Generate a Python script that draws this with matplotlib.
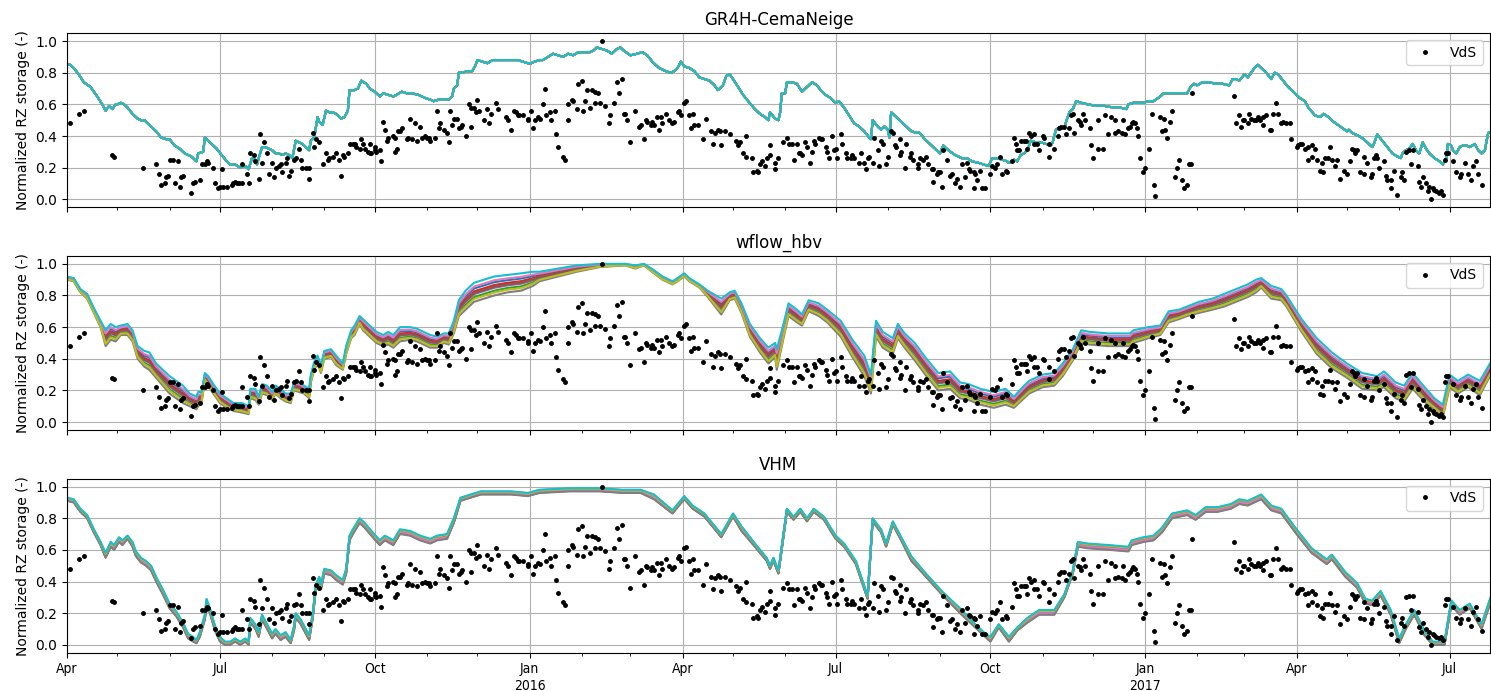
import numpy as np
import pandas as pd
import matplotlib
matplotlib.use("Agg")
import matplotlib.pyplot as plt
import matplotlib.dates as mdates
from matplotlib.ticker import FuncFormatter

START = pd.Timestamp("2015-04-01")
END = pd.Timestamp("2017-07-25")

# VdS observations: day offset from START and normalized storage
vds_day = [2, 7, 10, 27, 28, 45, 53, 55, 56, 58, 59, 60, 61, 63, 64, 66, 67, 68, 69, 74, 75, 76, 79, 80, 82, 83, 84,
           87, 88, 90, 91, 92, 93, 95, 98, 99, 100, 101, 102, 104, 104, 107, 108, 109, 111, 112, 114, 115, 117, 116,
           119, 120, 123, 122, 124, 126, 127, 128, 130, 131, 132, 133, 135, 136,
           138, 139, 140, 142, 144, 144, 146, 147, 148, 150, 152, 154, 155, 156, 158, 160, 162, 163, 164, 165, 167,
           168, 170, 171, 172, 174, 175, 176, 177, 179, 180, 180, 181, 183, 183, 184, 186, 187, 188, 189, 190, 191,
           194, 195, 195, 196, 197, 198, 199, 202, 203, 205, 204, 207, 208, 210, 211, 213, 214, 215, 216, 219, 220,
           221, 222, 224, 226, 227, 228, 229, 230, 232, 233, 234, 235, 237, 239, 240, 240, 242, 243, 244, 245, 248,
           250, 251, 252, 255, 256, 261, 262, 264, 266, 267, 268, 269, 271, 274, 274, 276, 277, 278, 280,
           281, 283, 284, 285, 287, 288, 290, 291, 292, 295, 296, 298, 298, 300, 301, 303, 304, 306, 307, 308, 309,
           311, 312, 314, 316, 314, 317, 318, 320, 322, 323, 325, 327, 330, 328, 331, 332, 333, 335, 338, 340, 341,
           343, 344, 345, 347, 348, 349, 351, 352, 353, 354, 356, 358, 360, 361, 363, 364, 365, 367, 368, 370, 371,
           372, 373, 375, 378, 380, 383, 384, 385, 387, 388, 389, 391, 394, 398, 399, 400, 402, 404, 404, 407, 408,
           410, 411, 412, 413, 415, 416, 418, 418,
           421, 421, 423, 426, 428, 429, 431, 432, 434, 435, 436, 437, 439, 440, 442, 443, 444, 445, 447, 448, 449,
           451, 452, 453, 455, 456, 457, 458, 460, 461, 463, 464, 466, 467, 468, 471, 472, 474, 475, 476, 477, 479,
           480, 482, 483, 484, 485, 487, 488, 490, 491, 492, 493, 495, 495, 496, 498, 499, 501, 502, 503, 506, 506,
           507, 509, 511, 512, 514, 515, 515, 517, 518, 519, 520, 521, 523, 525, 526, 528, 529, 531, 532, 534, 535,
           536, 537, 539, 539, 540, 541, 543, 544, 546, 549, 550, 552, 553, 555, 556, 558,
           559, 562, 563, 564, 565, 566, 567, 569, 570, 571, 572, 573, 575, 575, 577, 578, 580, 581, 584, 584, 587,
           589, 590, 591, 593, 594, 596, 597, 598, 599, 601, 602, 603, 604, 605, 608, 609, 610, 613, 613, 616, 617,
           619, 621, 623, 623, 625, 627, 628, 629, 631, 632, 633, 634, 635, 636, 637, 638, 640, 641, 643, 645, 646,
           647, 650, 651, 652, 653, 654, 656, 657, 659, 660, 661, 663, 664, 666, 667, 668, 669, 694, 695, 697, 698,
           699, 700, 702, 703, 704, 706, 707, 708, 709, 711, 711, 713, 715, 716, 717, 719, 720, 722, 723, 725, 727,
           728, 731, 732, 733, 734, 736, 738, 738, 740, 740, 742, 743, 745, 746, 747, 748, 750, 751, 752, 754, 755,
           757, 759, 761, 763, 764, 765, 766, 767, 769, 771, 771, 773, 775, 776, 777, 778, 779, 780, 783, 784, 785,
           787, 787, 789, 791, 793, 794, 795, 796, 798, 799, 800, 803, 804, 805, 806, 808, 809, 810, 811, 812, 813,
           814, 816, 817, 818, 819, 820, 821, 824, 826, 828, 829, 831, 833, 835, 836, 838, 839, 841]
vds_val = [0.48, 0.54, 0.56, 0.28, 0.27, 0.20, 0.22, 0.16, 0.09, 0.10, 0.14, 0.15, 0.25, 0.25, 0.10, 0.24, 0.08, 0.14,
           0.15, 0.04, 0.10, 0.11, 0.12, 0.22, 0.22, 0.24, 0.23, 0.20, 0.10, 0.07, 0.08, 0.19, 0.08, 0.08, 0.09, 0.10,
           0.11, 0.10, 0.10, 0.10, 0.22, 0.16, 0.10, 0.29, 0.28, 0.24, 0.13, 0.41, 0.36, 0.23, 0.29, 0.16, 0.14, 0.23,
           0.20, 0.21, 0.22, 0.17, 0.23, 0.26, 0.15, 0.18, 0.25, 0.26,
           0.32, 0.25, 0.20, 0.20, 0.20, 0.13, 0.42, 0.33, 0.38, 0.36, 0.22, 0.29, 0.25, 0.26, 0.27, 0.29, 0.25, 0.15,
           0.28, 0.27, 0.29, 0.35, 0.35, 0.35, 0.33, 0.32, 0.38, 0.35, 0.32, 0.30, 0.35, 0.29, 0.29, 0.33, 0.31, 0.30,
           0.31, 0.24, 0.49, 0.44, 0.37, 0.39, 0.40, 0.39, 0.30, 0.32, 0.43, 0.43, 0.45, 0.38, 0.39, 0.38, 0.51, 0.48,
           0.37, 0.46, 0.39, 0.40, 0.39, 0.39, 0.37, 0.39, 0.56, 0.45, 0.48, 0.44, 0.42, 0.36, 0.56, 0.47, 0.51, 0.51,
           0.45, 0.46, 0.47, 0.40, 0.60, 0.46, 0.58, 0.58, 0.55, 0.63, 0.56, 0.50, 0.57, 0.48, 0.54, 0.61, 0.57, 0.52,
           0.50, 0.44, 0.56, 0.55, 0.53, 0.53, 0.53, 0.51, 0.50, 0.56, 0.45, 0.50, 0.52,
           0.51, 0.60, 0.70, 0.53, 0.55, 0.50, 0.56, 0.41, 0.33, 0.27, 0.25, 0.50, 0.60, 0.63, 0.62, 0.57, 0.73, 0.75,
           0.56, 0.62, 0.69, 0.58, 0.69, 0.68, 0.67, 0.61, 0.61, 1.00, 0.59, 0.48, 0.53, 0.61, 0.74, 0.76, 0.67, 0.54,
           0.54, 0.50, 0.36, 0.56, 0.46, 0.47, 0.38, 0.50, 0.49, 0.47, 0.49, 0.47, 0.52, 0.44, 0.52, 0.48, 0.54, 0.50,
           0.48, 0.49, 0.55, 0.56, 0.53, 0.61, 0.62, 0.53, 0.45, 0.54, 0.47, 0.47, 0.38, 0.51, 0.43, 0.35, 0.42, 0.44,
           0.43, 0.34, 0.43, 0.41, 0.37, 0.34, 0.36, 0.29, 0.40, 0.27, 0.26, 0.17, 0.18, 0.17, 0.22, 0.24, 0.21, 0.26,
           0.28, 0.34,
           0.19, 0.23, 0.26, 0.36, 0.39, 0.35, 0.35, 0.25, 0.35, 0.29, 0.29, 0.28, 0.36, 0.33, 0.23, 0.30, 0.37, 0.35,
           0.39, 0.38, 0.38, 0.33, 0.30, 0.26, 0.40, 0.31, 0.32, 0.26, 0.41, 0.35, 0.29, 0.26, 0.26, 0.28, 0.26, 0.23,
           0.29, 0.23, 0.19, 0.26, 0.27, 0.23, 0.39, 0.31, 0.21, 0.37, 0.35, 0.22, 0.27, 0.43, 0.42, 0.34, 0.33, 0.38,
           0.28, 0.30, 0.20, 0.35, 0.27, 0.29, 0.25, 0.20, 0.22, 0.26, 0.25, 0.27, 0.22, 0.19, 0.11, 0.19, 0.16, 0.17,
           0.17, 0.08, 0.31, 0.25, 0.15, 0.16, 0.10, 0.13, 0.08, 0.22, 0.14, 0.23, 0.19, 0.18, 0.17, 0.07, 0.16, 0.12,
           0.18, 0.07, 0.07, 0.16, 0.21, 0.20, 0.22, 0.27, 0.16, 0.18,
           0.17, 0.24, 0.39, 0.35, 0.31, 0.31, 0.37, 0.37, 0.37, 0.32, 0.42, 0.40, 0.41, 0.35, 0.35, 0.31, 0.40, 0.39,
           0.27, 0.35, 0.32, 0.40, 0.45, 0.46, 0.46, 0.41, 0.45, 0.53, 0.54, 0.42, 0.50, 0.49, 0.47, 0.54, 0.50, 0.45,
           0.34, 0.26, 0.50, 0.32, 0.32, 0.53, 0.41, 0.52, 0.50, 0.42, 0.43, 0.42, 0.50, 0.41, 0.45, 0.46, 0.48, 0.49,
           0.48, 0.45, 0.40, 0.26, 0.17, 0.20, 0.32, 0.54, 0.09, 0.02, 0.52, 0.43, 0.51, 0.44, 0.39, 0.49, 0.56, 0.14,
           0.20, 0.25, 0.12, 0.07, 0.09, 0.22, 0.22, 0.67, 0.65, 0.48, 0.53, 0.46, 0.50,
           0.50, 0.48, 0.54, 0.51, 0.50, 0.50, 0.52, 0.50, 0.52, 0.47, 0.53, 0.44, 0.44, 0.54, 0.61, 0.54, 0.48, 0.49,
           0.48, 0.48, 0.38, 0.33, 0.34, 0.35, 0.35, 0.32, 0.33, 0.25, 0.34, 0.27, 0.32, 0.25, 0.18, 0.23, 0.17, 0.26,
           0.26, 0.33, 0.25, 0.21, 0.25, 0.13, 0.18, 0.16, 0.24, 0.32, 0.31, 0.29, 0.31, 0.17, 0.16, 0.27, 0.23, 0.14,
           0.16, 0.26, 0.28, 0.26, 0.20, 0.24, 0.15, 0.12, 0.07, 0.12, 0.18, 0.03, 0.14, 0.17, 0.12, 0.30, 0.31, 0.22,
           0.31, 0.21, 0.11, 0.08, 0.14, 0.10, 0.05, 0.08, 0.00, 0.07, 0.06, 0.05, 0.04, 0.05, 0.03, 0.25, 0.29, 0.29,
           0.24, 0.17, 0.14, 0.16, 0.23, 0.16, 0.12, 0.21, 0.24, 0.16, 0.09]

# GR4H-CemaNeige: all ensemble members practically coincide
gr4h_day = [0, 2, 4, 7, 10, 14, 18, 21, 23, 25, 27, 29, 30, 32, 34, 36, 39, 42, 44, 46, 48, 50, 53, 56, 59, 61, 64,
            67, 70, 74, 77, 78, 81, 82, 83, 86, 89, 92, 95, 97, 100, 103, 106, 108, 110, 112, 113, 114, 116, 118, 120,
            122, 124, 126, 128, 130, 132, 134, 136, 138, 140, 142, 144, 145, 147, 149, 150, 152, 154, 156, 158, 160,
            163, 165, 167, 168, 171, 173, 175, 178, 180, 183, 186, 188, 191, 194, 196, 199, 202, 205, 209, 213, 216,
            218, 221, 224, 227, 229, 230, 232, 233, 235, 238, 241, 243, 244, 247, 250, 253, 256, 259, 262, 265, 268,
            271, 274, 276, 278, 281, 283, 286, 289, 292, 295, 298, 301, 304, 308, 311, 313, 315, 318, 321, 324, 327,
            329, 331, 335, 339, 342, 345, 348, 352, 356, 359, 361, 363, 365, 367, 370, 373, 376, 379, 382, 385, 387,
            390, 392, 394, 396, 399, 402, 405, 409, 412, 415, 417, 418, 421, 423, 424, 425, 427, 428, 431, 434, 437,
            439, 441, 443, 446, 448, 451, 454, 457, 459, 462, 465, 468, 471, 474, 477, 478, 479, 482, 484, 486, 488,
            489, 490, 493, 496, 499, 502, 505, 507, 510, 513, 516, 519, 521, 524, 528, 532, 535, 538, 542, 545, 548,
            550, 553, 556, 559, 560, 562, 563, 565, 567, 569, 571, 573, 576, 579, 582, 585, 586, 588, 591, 593, 594,
            596, 598, 600, 603, 607, 612, 617, 622, 626, 630, 631, 634, 637, 640, 643, 646, 650, 652, 655, 658, 662,
            666, 668, 670, 672, 675, 679, 683, 687, 691, 693, 695, 697, 700, 702, 704, 706, 708, 710, 713, 716, 718,
            720, 723, 726, 730, 733, 736, 738, 742, 745, 747, 750, 753, 757, 761, 762, 764, 768, 771, 774, 776, 777,
            779, 782, 785, 788, 791, 793, 794, 796, 798, 800, 802, 804, 806, 808, 810, 813, 816, 818, 820, 821, 823,
            824, 826, 828, 830, 832, 834, 837, 839, 841, 843, 844, 845, 847]
gr4h_val = [0.85, 0.85, 0.83, 0.79, 0.74, 0.71, 0.65, 0.60, 0.56, 0.59, 0.57, 0.60, 0.60, 0.61, 0.60, 0.58, 0.54,
            0.51, 0.50, 0.50, 0.48, 0.46, 0.43, 0.39, 0.38, 0.38, 0.34, 0.32, 0.29, 0.27, 0.24, 0.29, 0.30, 0.39,
            0.38, 0.35, 0.32, 0.28, 0.24, 0.22, 0.22, 0.20, 0.21, 0.19, 0.26, 0.25, 0.22, 0.26, 0.33, 0.33, 0.32,
            0.31, 0.29, 0.29, 0.28, 0.29, 0.28, 0.26, 0.37, 0.36, 0.35, 0.33, 0.31, 0.37, 0.39, 0.52, 0.49, 0.47,
            0.56, 0.55, 0.55, 0.54, 0.51, 0.52, 0.56, 0.69, 0.69, 0.70, 0.75, 0.73, 0.70, 0.68, 0.65, 0.67, 0.66,
            0.65, 0.66, 0.68, 0.67, 0.67, 0.66, 0.64, 0.63, 0.62, 0.63, 0.63, 0.63, 0.65, 0.70, 0.72, 0.80, 0.80,
            0.81, 0.81, 0.85, 0.88, 0.87, 0.86, 0.88, 0.88, 0.88, 0.88, 0.88, 0.88, 0.87, 0.86, 0.86, 0.87, 0.88,
            0.88, 0.90, 0.92, 0.91, 0.90, 0.92, 0.91, 0.93, 0.93, 0.93, 0.94, 0.96, 0.95, 0.94, 0.92, 0.95, 0.96,
            0.94, 0.91, 0.92, 0.93, 0.91, 0.87, 0.83, 0.81, 0.80, 0.81, 0.83, 0.87, 0.84, 0.83, 0.81, 0.77, 0.76,
            0.75, 0.72, 0.69, 0.72, 0.78, 0.79, 0.76, 0.71, 0.66, 0.62, 0.57, 0.54, 0.52, 0.50, 0.55, 0.51, 0.50,
            0.55, 0.67, 0.67, 0.74, 0.74, 0.73, 0.68, 0.70, 0.72, 0.74, 0.72, 0.69, 0.66, 0.64, 0.61, 0.62, 0.58,
            0.53, 0.48, 0.46, 0.43, 0.39, 0.38, 0.50, 0.46, 0.44, 0.46, 0.44, 0.39, 0.55, 0.52, 0.49, 0.46, 0.43,
            0.42, 0.42, 0.38, 0.35, 0.32, 0.29, 0.34, 0.31, 0.28, 0.26, 0.26, 0.24, 0.23, 0.22, 0.21, 0.26, 0.26,
            0.25, 0.24, 0.23, 0.24, 0.25, 0.24, 0.28, 0.29, 0.31, 0.37, 0.36, 0.36, 0.35, 0.34, 0.36, 0.44, 0.46,
            0.45, 0.49, 0.55, 0.57, 0.62, 0.61, 0.60, 0.59, 0.59, 0.58, 0.58, 0.57, 0.60, 0.61, 0.61, 0.61, 0.62,
            0.62, 0.65, 0.67, 0.67, 0.67, 0.67, 0.67, 0.71, 0.73, 0.72, 0.74, 0.74, 0.73, 0.73, 0.72, 0.76, 0.76,
            0.75, 0.79, 0.77, 0.80, 0.83, 0.85, 0.83, 0.80, 0.76, 0.80, 0.79, 0.75, 0.71, 0.67, 0.64, 0.62, 0.58,
            0.53, 0.52, 0.54, 0.52, 0.49, 0.46, 0.43, 0.44, 0.42, 0.40, 0.38, 0.35, 0.33, 0.35, 0.41, 0.37, 0.33,
            0.29, 0.27, 0.26, 0.29, 0.31, 0.32, 0.35, 0.31, 0.29, 0.36, 0.32, 0.29, 0.26, 0.24, 0.22, 0.26, 0.35,
            0.34, 0.31, 0.29, 0.33, 0.34, 0.34, 0.33, 0.35, 0.31, 0.29, 0.31, 0.37, 0.42, 0.43]

# wflow_hbv: upper and lower edge of the ensemble
wflow_day = [0, 4, 8, 12, 16, 20, 23, 26, 29, 32,
             36, 39, 42, 46, 49, 53, 57, 61, 65, 69,
             73, 77, 78, 80, 82, 84, 87, 91, 95, 99,
             104, 108, 109, 112, 114, 116, 119, 122, 124, 127,
             130, 133, 135, 138, 141, 144, 145, 147, 149, 151,
             153, 157, 160, 164, 166, 169, 171, 174, 176, 180,
             184, 188, 191, 194, 198, 204, 208, 212, 216, 220,
             224, 227, 230, 233, 237, 242, 248, 254, 262, 270,
             277, 281, 292, 303, 317, 332, 338, 343, 349, 354,
             360, 363, 367, 370, 376, 381, 389, 394, 397, 401,
             406, 412, 417, 421, 422, 426, 429, 434, 437, 441,
             447, 452, 460, 467, 474, 478, 481, 485, 491, 494,
             498, 504, 511, 518, 525, 531, 536, 543, 551, 558,
             563, 569, 572, 580, 587, 592, 598, 603, 608, 619,
             632, 634, 643, 650, 655, 661, 666, 673, 681, 688,
             695, 702, 707, 710, 716, 722, 725, 734, 743, 752,
             761, 770, 779, 783, 790, 795, 800, 808, 813, 818,
             822, 827, 833, 840, 846]
wflow_hi = [0.92, 0.91, 0.84, 0.81, 0.72, 0.64, 0.58, 0.62, 0.60, 0.61,
            0.62, 0.58, 0.48, 0.45, 0.44, 0.37, 0.33, 0.29, 0.26, 0.23,
            0.18, 0.16, 0.19, 0.19, 0.31, 0.29, 0.24, 0.18, 0.15, 0.12,
            0.12, 0.10, 0.21, 0.21, 0.16, 0.24, 0.23, 0.19, 0.23, 0.21,
            0.18, 0.18, 0.25, 0.25, 0.23, 0.21, 0.30, 0.38, 0.42, 0.36,
            0.45, 0.46, 0.42, 0.37, 0.48, 0.58, 0.61, 0.67, 0.65, 0.61,
            0.57, 0.55, 0.57, 0.55, 0.60, 0.60, 0.59, 0.57, 0.55, 0.54,
            0.56, 0.56, 0.64, 0.77, 0.83, 0.88, 0.90, 0.92, 0.93, 0.94,
            0.95, 0.95, 0.97, 0.99, 1.00, 1.00, 0.99, 1.00, 0.96, 0.92,
            0.89, 0.91, 0.94, 0.91, 0.87, 0.83, 0.78, 0.82, 0.83, 0.75,
            0.62, 0.53, 0.47, 0.50, 0.46, 0.62, 0.75, 0.71, 0.68, 0.77,
            0.75, 0.71, 0.64, 0.52, 0.42, 0.30, 0.64, 0.57, 0.53, 0.62,
            0.56, 0.50, 0.40, 0.31, 0.32, 0.25, 0.24, 0.21, 0.19, 0.21,
            0.16, 0.23, 0.26, 0.30, 0.31, 0.37, 0.46, 0.58, 0.57, 0.56,
            0.56, 0.58, 0.60, 0.61, 0.70, 0.71, 0.73, 0.76, 0.78, 0.81,
            0.84, 0.87, 0.90, 0.91, 0.86, 0.84, 0.80, 0.65, 0.53, 0.44,
            0.37, 0.31, 0.29, 0.32, 0.25, 0.23, 0.31, 0.21, 0.15, 0.11,
            0.30, 0.26, 0.30, 0.26, 0.37]
wflow_lo = [0.90, 0.89, 0.82, 0.78, 0.69, 0.60, 0.48, 0.52, 0.51, 0.55,
            0.55, 0.51, 0.40, 0.35, 0.33, 0.28, 0.23, 0.18, 0.15, 0.12,
            0.10, 0.08, 0.10, 0.12, 0.26, 0.23, 0.18, 0.12, 0.09, 0.07,
            0.06, 0.05, 0.15, 0.14, 0.11, 0.18, 0.17, 0.14, 0.18, 0.15,
            0.13, 0.12, 0.20, 0.19, 0.18, 0.15, 0.25, 0.33, 0.37, 0.31,
            0.40, 0.41, 0.36, 0.33, 0.43, 0.53, 0.55, 0.62, 0.58, 0.54,
            0.50, 0.48, 0.49, 0.47, 0.51, 0.52, 0.51, 0.49, 0.47, 0.47,
            0.50, 0.49, 0.56, 0.67, 0.71, 0.76, 0.78, 0.80, 0.82, 0.83,
            0.86, 0.89, 0.92, 0.95, 0.98, 0.99, 0.97, 0.99, 0.94, 0.90,
            0.87, 0.89, 0.92, 0.89, 0.85, 0.79, 0.68, 0.77, 0.78, 0.69,
            0.54, 0.44, 0.37, 0.41, 0.33, 0.53, 0.67, 0.63, 0.61, 0.70,
            0.67, 0.63, 0.54, 0.41, 0.29, 0.18, 0.54, 0.47, 0.43, 0.53,
            0.47, 0.39, 0.29, 0.20, 0.21, 0.15, 0.14, 0.11, 0.09, 0.11,
            0.09, 0.15, 0.18, 0.22, 0.23, 0.29, 0.39, 0.50, 0.49, 0.48,
            0.48, 0.50, 0.53, 0.55, 0.63, 0.65, 0.67, 0.69, 0.71, 0.73,
            0.76, 0.79, 0.82, 0.85, 0.78, 0.77, 0.73, 0.57, 0.43, 0.34,
            0.28, 0.21, 0.20, 0.22, 0.15, 0.13, 0.21, 0.12, 0.08, 0.03,
            0.22, 0.18, 0.22, 0.17, 0.29]

# VHM: upper and lower edge of the ensemble
vhm_day = [0, 4, 8, 12, 16, 20, 23, 26, 28, 31,
           33, 36, 39, 41, 44, 47, 50, 53, 57, 61,
           65, 69, 72, 75, 77, 79, 82, 83, 85, 88,
           91, 94, 97, 100, 103, 106, 108, 109, 112, 114,
           116, 119, 122, 124, 127, 130, 133, 135, 136, 139,
           142, 144, 146, 148, 150, 151, 153, 157, 160, 164,
           166, 168, 170, 174, 177, 181, 186, 189, 194, 198,
           204, 210, 216, 220, 226, 230, 234, 240, 246, 254,
           264, 274, 281, 299, 317, 330, 341, 349, 360, 367,
           372, 379, 389, 396, 401, 409, 416, 418, 420, 423,
           428, 432, 436, 440, 444, 450, 457, 462, 469, 476,
           479, 484, 487, 491, 496, 502, 509, 520, 531, 538,
           546, 549, 554, 560, 565, 571, 578, 587, 593, 598,
           601, 607, 620, 631, 633, 640, 646, 651, 657, 666,
           671, 677, 684, 692, 697, 702, 710, 716, 722, 731,
           740, 749, 752, 760, 767, 772, 776, 781, 787, 792,
           796, 801, 807, 812, 819, 823, 828, 834, 841, 847]
vhm_hi = [0.93, 0.92, 0.86, 0.82, 0.73, 0.65, 0.58, 0.65, 0.63, 0.68,
          0.66, 0.69, 0.65, 0.59, 0.55, 0.53, 0.50, 0.43, 0.35, 0.26,
          0.21, 0.14, 0.07, 0.05, 0.03, 0.08, 0.19, 0.29, 0.23, 0.12,
          0.05, 0.02, 0.02, 0.04, 0.02, 0.04, 0.02, 0.17, 0.13, 0.08,
          0.19, 0.13, 0.07, 0.10, 0.06, 0.08, 0.03, 0.12, 0.20, 0.16,
          0.10, 0.06, 0.19, 0.38, 0.43, 0.38, 0.48, 0.47, 0.44, 0.41,
          0.48, 0.69, 0.73, 0.80, 0.77, 0.72, 0.66, 0.69, 0.66, 0.73,
          0.72, 0.69, 0.67, 0.69, 0.70, 0.80, 0.93, 0.95, 0.97, 0.97,
          0.97, 0.96, 0.98, 0.99, 0.99, 0.98, 0.98, 0.95, 0.85, 0.94,
          0.88, 0.83, 0.70, 0.83, 0.75, 0.64, 0.55, 0.50, 0.55, 0.47,
          0.86, 0.81, 0.86, 0.80, 0.86, 0.81, 0.69, 0.64, 0.53, 0.31,
          0.80, 0.73, 0.64, 0.78, 0.68, 0.56, 0.47, 0.34, 0.23, 0.15,
          0.07, 0.05, 0.13, 0.05, 0.11, 0.17, 0.22, 0.22, 0.32, 0.47,
          0.65, 0.64, 0.63, 0.62, 0.66, 0.68, 0.69, 0.74, 0.83, 0.85,
          0.82, 0.87, 0.87, 0.89, 0.92, 0.91, 0.95, 0.88, 0.86, 0.73,
          0.61, 0.54, 0.57, 0.46, 0.39, 0.29, 0.28, 0.34, 0.22, 0.04,
          0.13, 0.22, 0.09, 0.02, 0.02, 0.28, 0.22, 0.26, 0.13, 0.32]
vhm_lo = [0.91, 0.90, 0.84, 0.80, 0.71, 0.63, 0.55, 0.62, 0.60, 0.65,
          0.63, 0.67, 0.62, 0.56, 0.52, 0.50, 0.47, 0.40, 0.32, 0.23,
          0.18, 0.11, 0.04, 0.02, 0.01, 0.05, 0.16, 0.26, 0.20, 0.09,
          0.02, 0.00, 0.00, 0.02, 0.00, 0.02, 0.00, 0.14, 0.10, 0.05,
          0.16, 0.10, 0.04, 0.07, 0.03, 0.05, 0.01, 0.09, 0.17, 0.13,
          0.07, 0.03, 0.16, 0.35, 0.40, 0.35, 0.45, 0.44, 0.41, 0.38,
          0.45, 0.66, 0.70, 0.77, 0.74, 0.69, 0.63, 0.66, 0.63, 0.70,
          0.69, 0.66, 0.64, 0.66, 0.67, 0.77, 0.91, 0.93, 0.95, 0.95,
          0.95, 0.94, 0.96, 0.97, 0.97, 0.96, 0.96, 0.92, 0.83, 0.92,
          0.86, 0.81, 0.68, 0.81, 0.72, 0.62, 0.53, 0.48, 0.53, 0.45,
          0.84, 0.79, 0.84, 0.78, 0.84, 0.79, 0.67, 0.62, 0.51, 0.29,
          0.78, 0.71, 0.62, 0.76, 0.66, 0.53, 0.45, 0.32, 0.20, 0.13,
          0.05, 0.02, 0.11, 0.02, 0.09, 0.14, 0.19, 0.19, 0.30, 0.45,
          0.62, 0.61, 0.60, 0.59, 0.63, 0.65, 0.66, 0.71, 0.80, 0.82,
          0.79, 0.84, 0.84, 0.86, 0.89, 0.88, 0.92, 0.85, 0.83, 0.70,
          0.58, 0.51, 0.54, 0.43, 0.36, 0.26, 0.25, 0.31, 0.19, 0.01,
          0.10, 0.19, 0.06, 0.00, 0.00, 0.25, 0.19, 0.23, 0.10, 0.29]

# where each of the 10 members sits between the upper (0) and lower (1) edge
wflow_pos = [0.3, 0.5, 0.75, 0.45, 0.6, 0.55, 0.2, 1.0, 0.85, 0.0]
vhm_pos = [0.4, 0.1, 0.8, 0.5, 0.6, 0.9, 0.7, 1.0, 0.2, 0.0]

titles = ["GR4H-CemaNeige", "wflow_hbv", "VHM"]


def to_dates(days):
    return START + pd.to_timedelta(days, unit="D")


def month_label(x, pos):
    d = mdates.num2date(x)
    if d.month == 1:
        return d.strftime("%b") + "\n" + str(d.year)
    return d.strftime("%b")


def plot_members(ax, days, hi, lo, pos):
    dates = to_dates(days)
    hi = np.array(hi)
    lo = np.array(lo)
    for i, p in enumerate(pos):
        ax.plot(dates, hi + p * (lo - hi), color=f"C{i}", lw=1.5)


fig, axes = plt.subplots(3, 1, figsize=(14.91, 6.91), dpi=100, sharex=True)
fig.subplots_adjust(left=0.0449, right=0.9993, top=0.952, bottom=0.0554, hspace=0.28)

obs_dates = to_dates(vds_day)

plot_members(axes[0], gr4h_day, gr4h_val, gr4h_val, [0.0] * 10)
plot_members(axes[1], wflow_day, wflow_hi, wflow_lo, wflow_pos)
plot_members(axes[2], vhm_day, vhm_hi, vhm_lo, vhm_pos)

for ax, title in zip(axes, titles):
    ax.plot(obs_dates, vds_val, "k.", ms=5, label="VdS")
    ax.set_title(title, fontsize=12)
    ax.set_ylabel("Normalized RZ storage (-)", fontsize=10)
    ax.set_ylim(-0.05, 1.05)
    ax.set_yticks([0.0, 0.2, 0.4, 0.6, 0.8, 1.0])
    ax.grid(True)
    ax.legend(loc="upper right", fontsize=10)

ax = axes[2]
ax.set_xlim(START, END)
ax.xaxis.set_major_locator(mdates.MonthLocator(bymonth=[1, 4, 7, 10]))
ax.xaxis.set_minor_locator(mdates.MonthLocator())
ax.xaxis.set_major_formatter(FuncFormatter(month_label))
for lab in ax.get_xticklabels():
    lab.set_fontstretch("condensed")

fig.savefig("out.png", dpi=100)
